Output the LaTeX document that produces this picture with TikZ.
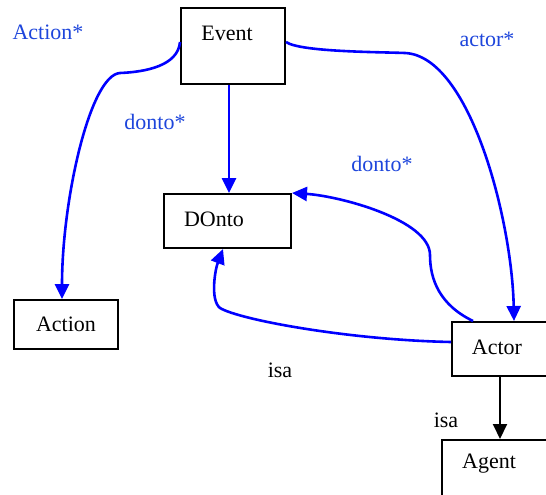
\documentclass[tikz,border=0pt]{standalone}
\usepackage{fontspec}
\setmainfont{Liberation Serif}
\usetikzlibrary{arrows.meta,calc}
\definecolor{edgeblue}{RGB}{0,0,255}
\definecolor{labelblue}{RGB}{30,70,220}
\begin{document}
\begin{tikzpicture}[x=1pt,y=-1pt,
  box/.style={draw=black,line width=2pt,fill=white,rectangle,inner sep=0pt},
  boxtext/.style={font=\fontsize{22}{26}\selectfont,text=black,inner sep=0pt},
  rel/.style={font=\fontsize{22}{26}\selectfont,text=labelblue,inner sep=0pt},
  isalabel/.style={font=\fontsize{22}{26}\selectfont,text=black,inner sep=0pt},
  link/.style={draw=edgeblue,line width=2.6pt,-{Triangle[length=15pt,width=14pt]}},
  sublink/.style={draw=black,line width=2pt,-{Triangle[length=15pt,width=14pt]}}]
\clip (0,0) rectangle (546,495);
\fill[white] (0,0) rectangle (546,495);

% class boxes
\node[box,minimum width=104pt,minimum height=76pt] (ev) at (233,46) {};
\node[box,minimum width=127pt,minimum height=54pt] (don) at (227.5,221) {};
\node[box,minimum width=104pt,minimum height=49pt] (act) at (66,324.5) {};
\node[box,minimum width=98pt,minimum height=54pt] (actr) at (501,349) {};
\node[box,minimum width=108pt,minimum height=60pt] (ag) at (496,470) {};

% box captions
\node[boxtext] (evt) at (227,33) {Event};
\node[boxtext] (dont) at (214,219) {DOnto};
\node[boxtext] (actt) at (66,324) {Action};
\node[boxtext] (actrt) at (497,347) {Actor};
\node[boxtext] (agt) at (489,464) {Agent};

% relation labels
\node[rel] (l1) at (48,32) {Action*};
\node[rel] (l2) at (155,122) {donto*};
\node[rel] (l3) at (487,39) {actor*};
\node[rel] (l4) at (382,164) {donto*};
\node[isalabel] (l5) at (280,370) {isa};
\node[isalabel] (l6) at (446,420) {isa};

% connectors
\draw[link] ([yshift=4pt]ev.west) .. controls (178,66) and (145,72) .. (120,73)
  .. controls (90,75) and (62,200) .. ([xshift=-4pt]act.north);
\draw[link] ([xshift=-4pt]ev.south) -- ([xshift=1.5pt]don.north);
\draw[link] ([yshift=4pt]ev.east) .. controls (300,52) and (380,52) .. (405,53)
  .. controls (470,56) and (512,220) .. ([xshift=13pt]actr.north);
\draw[link] ([xshift=-28pt]actr.north) .. controls (440,305) and (430,280) .. (430,255)
  .. controls (430,220) and (340,196) .. (don.north east);
\draw[link] ([yshift=7pt]actr.west) .. controls (350,340) and (240,320) .. (220,308)
  .. controls (210,300) and (215,270) .. ([xshift=-4.5pt]don.south);
\draw[sublink] (actr.south -| 500,0) -- (ag.north -| 500,0);
\end{tikzpicture}
\end{document}
